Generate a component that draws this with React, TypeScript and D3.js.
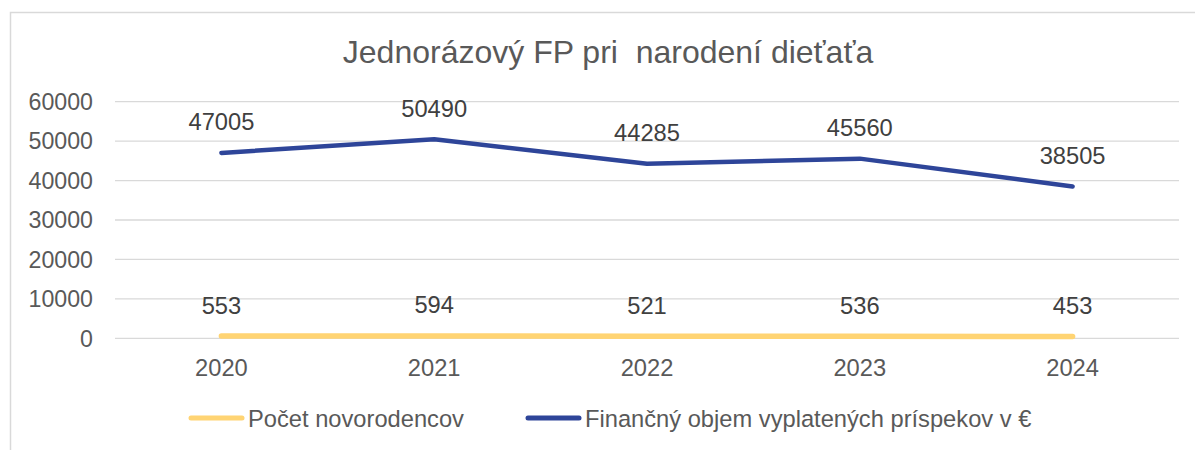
import React from "react";
import * as d3 from "d3";

const years = ["2020", "2021", "2022", "2023", "2024"];
const births = [553, 594, 521, 536, 453];
const amounts = [47005, 50490, 44285, 45560, 38505];
const yTicks = [0, 10000, 20000, 30000, 40000, 50000, 60000];
const title = "Jednorázový FP pri  narodení dieťaťa";
const seriesNames = ["Počet novorodencov", "Finančný objem vyplatených príspekov v €"];

const W = 1195;
const H = 450;
const font = "'Liberation Sans', Arial, sans-serif";
const fs = 23.7;

export default function App() {
  const x = d3.scaleBand<string>().domain(years).range([115, 1179]);
  const y = d3.scaleLinear().domain([0, 60000]).range([338.3, 101.7]);
  const cx = (d: string) => (x(d) as number) + x.bandwidth() / 2;
  const line = d3
    .line<number>()
    .x((_, i) => cx(years[i]))
    .y((v) => y(v));

  const series = [
    { values: births, color: "#FFD473", width: 5.5 },
    { values: amounts, color: "#2E4599", width: 4.5 },
  ];

  return (
    <svg
      width={W}
      height={H}
      style={{ position: "absolute", left: 0, top: 0 }}
      fontFamily={font}
    >
      <rect x={0} y={0} width={W} height={H} fill="#fff" />
      <rect x={10.5} y={12.5} width={W + 20} height={H + 20} fill="none" stroke="#D9D9D9" strokeWidth={1.5} />
      <text x={608} y={63} textAnchor="middle" fontSize={32} fill="#595959" style={{ whiteSpace: "pre" }}>
        {title}
      </text>
      {yTicks.map((t) => (
        <g key={t}>
          <line x1={115} x2={1179} y1={y(t)} y2={y(t)} stroke="#D9D9D9" strokeWidth={1.3} />
          <text x={93} y={y(t) + 8.3} textAnchor="end" fontSize={fs - 0.5} fill="#595959">
            {t}
          </text>
        </g>
      ))}
      {years.map((yr) => (
        <text key={yr} x={cx(yr)} y={376} textAnchor="middle" fontSize={fs} fill="#595959">
          {yr}
        </text>
      ))}
      {series.map((s, si) => (
        <g key={si}>
          <path
            d={line(s.values) as string}
            fill="none"
            stroke={s.color}
            strokeWidth={s.width}
            strokeLinecap="round"
            strokeLinejoin="round"
          />
          {s.values.map((v, i) => (
            <text
              key={i}
              x={cx(years[i])}
              y={y(v) - 22.5}
              textAnchor="middle"
              fontSize={fs}
              fill="#404040"
            >
              {v}
            </text>
          ))}
        </g>
      ))}
      {series.map((s, si) => {
        const lx = si === 0 ? 191 : 528;
        return (
          <g key={"lg" + si}>
            <line x1={lx} x2={lx + 51} y1={418} y2={418} stroke={s.color} strokeWidth={5} strokeLinecap="round" />
            <text x={lx + 57} y={426.5} fontSize={fs} fill="#595959">
              {seriesNames[si]}
            </text>
          </g>
        );
      })}
    </svg>
  );
}
